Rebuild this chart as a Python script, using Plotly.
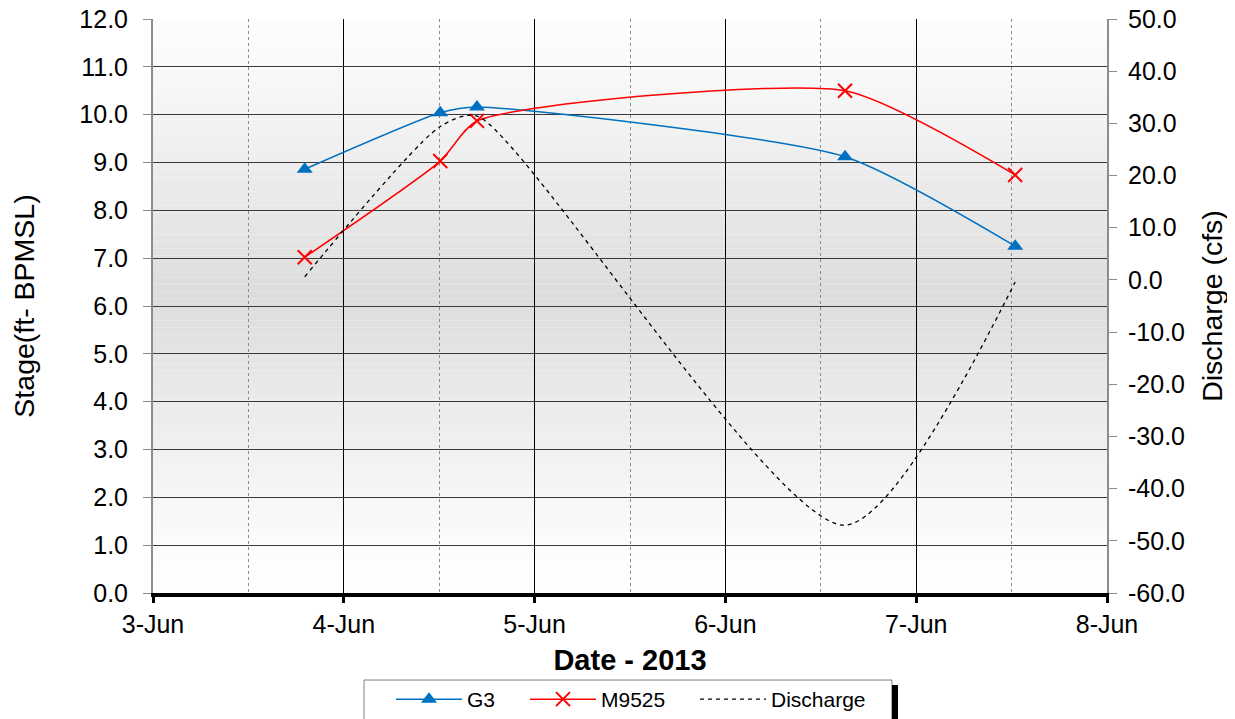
import plotly.graph_objects as go

# sample times and readings
dates = ['2013-06-03 19:05', '2013-06-04 12:08', '2013-06-04 16:45',
         '2013-06-06 15:03', '2013-06-07 12:27']
g3 = [8.86, 10.04, 10.16, 9.12, 7.25]
m9525 = [7.02, 9.03, 9.87, 10.50, 8.74]
discharge = [0.6, 29.4, 31.4, -47.0, -0.4]

# right-hand axis labels (plain hyphen minus, as in the original)
q_ticks = [-60, -50, -40, -30, -20, -10, 0, 10, 20, 30, 40, 50]
q_labels = ['-60.0', '-50.0', '-40.0', '-30.0', '-20.0', '-10.0',
            '0.0', '10.0', '20.0', '30.0', '40.0', '50.0']

FONT = 'Liberation Sans, Arial, sans-serif'

# the page body has an 8px margin, so the figure is 8px smaller than the window
W, H = 1227, 711

fig = go.Figure()

fig.add_trace(go.Scatter(x=dates, y=g3, name='G3', mode='lines+markers', legendwidth=53,
                         line=dict(color='#0070c0', width=1.5, shape='spline', smoothing=0.6),
                         marker=dict(symbol='triangle-up', size=14, color='#0070c0')))
fig.add_trace(go.Scatter(x=dates, y=m9525, name='M9525', mode='lines+markers', legendwidth=89,
                         line=dict(color='#ff0000', width=1.5, shape='spline', smoothing=0.6),
                         marker=dict(symbol='x-thin', size=14,
                                     line=dict(color='#ff0000', width=2))))
fig.add_trace(go.Scatter(x=dates, y=discharge, name='Discharge', mode='lines', yaxis='y2',
                         line=dict(color='black', width=1.3, dash='4px,4px',
                                   shape='spline', smoothing=0.7)))

# grey gradient background of the plot area
n = 80
for i in range(n):
    f = (i + 0.5) / n
    d = 1 - abs(f - 0.52) / 0.52
    g = int(round(255 - 35 * max(d, 0) ** 1.2))
    fig.add_shape(type='rect', xref='x domain', yref='y domain',
                  x0=0, x1=1, y0=i / n, y1=(i + 1) / n, layer='below',
                  line_width=0, fillcolor=f'rgb({g},{g},{g})')

# legend frame and its shadow
fig.add_shape(type='rect', xref='paper', yref='paper', x0=0.2212, x1=0.7746,
              y0=-0.26, y1=-0.1516, line=dict(color='#808080', width=1),
              fillcolor='white', layer='below')
fig.add_shape(type='rect', xref='paper', yref='paper', x0=0.7746, x1=0.7809,
              y0=-0.26, y1=-0.1603, line_width=0, fillcolor='black')

fig.update_layout(
    width=W, height=H,
    margin=dict(l=145, r=128, t=11, b=126),
    paper_bgcolor='white', plot_bgcolor='white',
    font=dict(family=FONT, size=25, color='black'),
    showlegend=True,
    legend=dict(orientation='h', xref='container', yref='container',
                x=383 / W, xanchor='left', y=1 - 671 / H, yanchor='top',
                borderwidth=0, bgcolor='rgba(0,0,0,0)',
                font=dict(size=21), itemwidth=66, tracegroupgap=0),
    xaxis=dict(type='date', range=['2013-06-03', '2013-06-08'],
               dtick=86400000, tick0='2013-06-03', tickformat='%-d-%b',
               showgrid=True, gridcolor='black', gridwidth=1,
               minor=dict(dtick=43200000, showgrid=True, gridcolor='#8c8c8c',
                          griddash='dot', gridwidth=1),
               showline=True, linecolor='black', linewidth=4,
               ticks='outside', tickcolor='black', tickwidth=3, ticklen=6,
               tickfont=dict(size=25), automargin=False, ticklabeloverflow='allow',
               title=dict(text='<b>Date - 2013</b>', font=dict(size=29), standoff=14),
               zeroline=False),
    yaxis=dict(range=[0, 12], dtick=1, tickformat='.1f',
               showgrid=True, gridcolor='#3a3a3a', gridwidth=1,
               showline=True, linecolor='#8c8c8c', linewidth=2,
               ticks='outside', tickcolor='#8c8c8c', ticklen=8, ticklabelstandoff=10,
               tickfont=dict(size=25), automargin=False, ticklabeloverflow='allow',
               title=dict(text='Stage(ft- BPMSL)', font=dict(size=28.5), standoff=38),
               zeroline=False),
    yaxis2=dict(range=[-60, 50], tickmode='array', tickvals=q_ticks, ticktext=q_labels,
                overlaying='y', side='right',
                showgrid=False, showline=True, linecolor='#8c8c8c', linewidth=2,
                ticks='outside', tickcolor='#8c8c8c', ticklen=8, ticklabelstandoff=6,
                tickfont=dict(size=25), automargin=False, ticklabeloverflow='allow',
                title=dict(text='Discharge (cfs)', font=dict(size=28.5), standoff=18),
                zeroline=False),
)

fig.write_html('out.html')
